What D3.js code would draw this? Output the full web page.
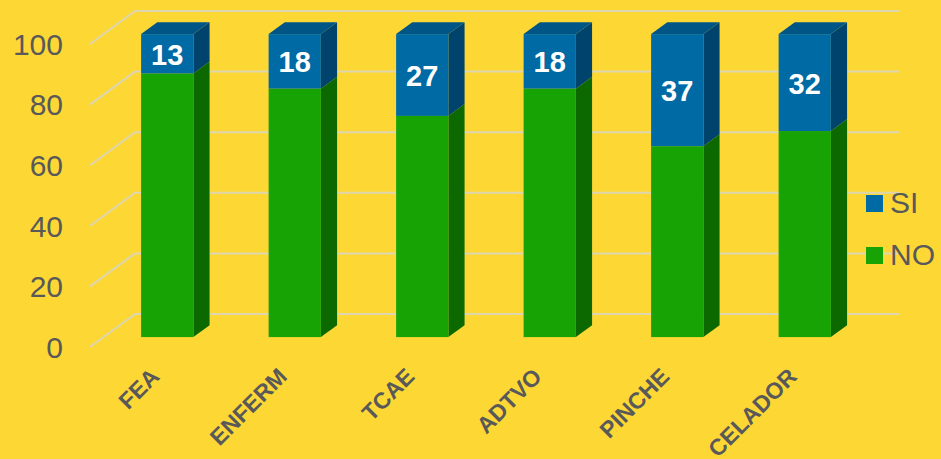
<!DOCTYPE html>
<html>
<head>
<meta charset="utf-8">
<script src="https://cdn.jsdelivr.net/npm/d3@7"></script>
<style>
    body { margin: 0; background: #FDD835; }
    svg { display: block; font-family: "Liberation Sans", Arial, sans-serif; }
</style>
</head>
<body>
<div id="grafico"></div>
<script>

// Datos del gráfico
const categorias = ['FEA', 'ENFERM', 'TCAE', 'ADTVO', 'PINCHE', 'CELADOR']
const valores_no = [87, 82, 73, 82, 63, 68]
const valores_si = [13, 18, 27, 18, 37, 32]
const ticks_y = [0, 20, 40, 60, 80, 100]
const series = ['NO', 'SI']

// Colores por serie: frente, lateral, tapa
const cores = {
    NO: { frente: '#17A303', lado: '#0C6900', tapa: '#0F8502' },
    SI: { frente: '#006AA5', lado: '#00446E', tapa: '#005587' }
}

function graficarBarras3D(id_area) {

    let width = 941
    let height = 459

    // Profundidad del "cubo" (desplazamiento hacia atrás)
    const prof = { dx: 45, dy: -33 }
    // Posición de la barra dentro de la profundidad
    const t1 = 0.3, t2 = 0.66

    let svg = d3.select(`#${id_area}`).append('svg')
        .attr('width', width)
        .attr('height', height)

    svg.append('rect')
        .attr('width', width)
        .attr('height', height)
        .attr('fill', '#FDD835')

    // Escalas (plano frontal)
    let x = d3.scaleBand().domain(categorias).range([90, 855])
        .paddingInner(0.59).paddingOuter(0.295)
    let y = d3.scaleLinear().domain([0, 100]).range([347, 44])

    // Líneas de la cuadrícula: diagonal del suelo/pared + horizontal al fondo
    const rejilla = svg.append('g')
    ticks_y.forEach(function (v) {
        rejilla.append('path')
            .attr('d', `M${x.range()[0]},${y(v)} L${x.range()[0] + prof.dx},${y(v) + prof.dy} L${x.range()[1] + prof.dx},${y(v) + prof.dy}`)
            .attr('fill', 'none')
            .attr('stroke', '#DDD6AE')
            .attr('stroke-width', 2)
    })

    // Etiquetas del eje Y
    svg.append('g').selectAll('text')
        .data(ticks_y)
        .join('text')
        .attr('x', 63)
        .attr('y', d => y(d))
        .attr('dy', '0.36em')
        .attr('text-anchor', 'end')
        .attr('font-size', 30)
        .attr('fill', '#595959')
        .text(d => d)

    // Apilar los datos
    const tabla = categorias.map((c, i) => ({ cat: c, NO: valores_no[i], SI: valores_si[i] }))
    const pilas = d3.stack().keys(series)(tabla)

    const bw = x.bandwidth()
    const barras = svg.append('g')

    pilas.forEach(function (capa) {
        const cor = cores[capa.key]
        const esUltima = capa.key === series[series.length - 1]

        capa.forEach(function (d) {
            const cat = d.data.cat
            const xa = x(cat) + prof.dx * t1
            const xb = x(cat) + prof.dx * t2
            const ya0 = y(d[0]) + prof.dy * t1
            const ya1 = y(d[1]) + prof.dy * t1
            const yb0 = y(d[0]) + prof.dy * t2
            const yb1 = y(d[1]) + prof.dy * t2

            // Lateral derecho
            barras.append('path')
                .attr('d', `M${xa + bw},${ya1} L${xb + bw},${yb1} L${xb + bw},${yb0} L${xa + bw},${ya0} Z`)
                .attr('fill', cor.lado)

            // Frente
            barras.append('rect')
                .attr('x', xa)
                .attr('y', ya1)
                .attr('width', bw)
                .attr('height', ya0 - ya1)
                .attr('fill', cor.frente)

            // Tapa (sólo en la serie superior)
            if (esUltima) {
                barras.append('path')
                    .attr('d', `M${xa},${ya1} L${xb},${yb1} L${xb + bw},${yb1} L${xa + bw},${ya1} Z`)
                    .attr('fill', cor.tapa)

                // Etiqueta del valor
                barras.append('text')
                    .attr('x', xa + bw / 2)
                    .attr('y', (ya0 + ya1) / 2)
                    .attr('dy', '0.38em')
                    .attr('text-anchor', 'middle')
                    .attr('font-size', 29)
                    .attr('font-weight', 'bold')
                    .attr('fill', '#FFFFFF')
                    .text(d[1] - d[0])
            }
        })
    })

    // Etiquetas del eje X (rotadas)
    svg.append('g').selectAll('text')
        .data(categorias)
        .join('text')
        .attr('transform', d => `translate(${x(d) + bw / 2 + 7}, 378) rotate(-45)`)
        .attr('text-anchor', 'end')
        .attr('font-size', 23)
        .attr('font-weight', 'bold')
        .attr('fill', '#595959')
        .text(d => d)

    // Leyenda
    const leyenda = svg.append('g')
    const orden_leyenda = ['SI', 'NO']
    orden_leyenda.forEach(function (s, i) {
        leyenda.append('rect')
            .attr('x', 866)
            .attr('y', 195 + i * 52)
            .attr('width', 17)
            .attr('height', 17)
            .attr('fill', cores[s].frente)
        leyenda.append('text')
            .attr('x', 890)
            .attr('y', 213 + i * 52)
            .attr('font-size', 30)
            .attr('fill', '#595959')
            .text(s)
    })
}

graficarBarras3D('grafico')

</script>
</body>
</html>
